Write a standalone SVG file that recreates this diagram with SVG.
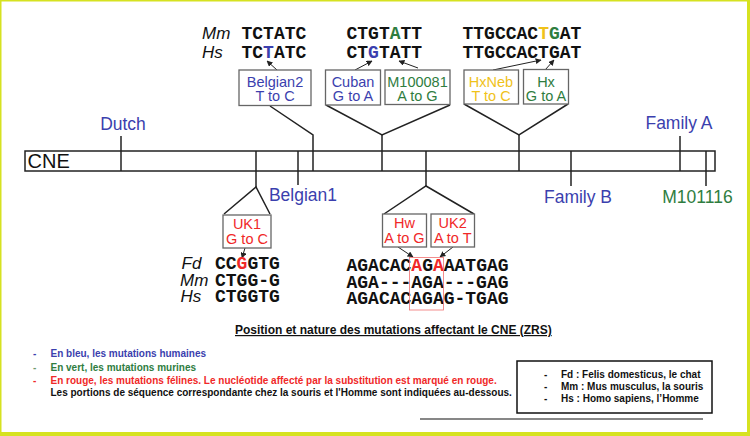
<svg xmlns="http://www.w3.org/2000/svg" width="750" height="436" viewBox="0 0 750 436">
<style>
.sans{font-family:"Liberation Sans",Arial,sans-serif}
.seq{font-family:"Liberation Mono","Courier New",monospace;font-weight:bold;font-size:18px;fill:#111}
.sp{font-family:"Liberation Sans",Arial,sans-serif;font-style:italic;font-size:17px;fill:#111}
.lbl{font-family:"Liberation Sans",Arial,sans-serif;font-size:17.5px}
.box{fill:#fff;stroke:#666;stroke-width:1.3}
.bt{font-family:"Liberation Sans",Arial,sans-serif;font-size:14.5px;text-anchor:middle}
.ln{stroke:#222;stroke-width:1.5;fill:none}
.ar{stroke:#222;stroke-width:1;fill:none;marker-end:url(#ah)}
.leg{font-family:"Liberation Sans",Arial,sans-serif;font-weight:bold;font-size:10px}
.blue{fill:#3b3fae}.green{fill:#2f7d3f}.red{fill:#f02828}.yel{fill:#f0c21a}
</style>
<defs>
<marker id="ah" viewBox="0 0 10 10" refX="9" refY="5" markerWidth="6" markerHeight="6" orient="auto" markerUnits="userSpaceOnUse">
<path d="M0,0 L10,5 L0,10 z" fill="#222"/>
</marker>
</defs>
<rect width="750" height="436" fill="#fff"/>
<g id="border" fill="#d6e220">
<rect x="0" y="0" width="750" height="1.5"/>
<rect x="0" y="0" width="1.5" height="436"/>
<rect x="747" y="0" width="3" height="436"/>
<rect x="0" y="432" width="750" height="4"/>
</g>

<g id="cne">
<rect x="25" y="151" width="690" height="20" fill="#fff" stroke="#222" stroke-width="1.5"/>
<text class="sans" x="27.5" y="168" font-size="20" fill="#111">CNE</text>
</g>

<g id="connectors">
<line class="ln" x1="121" y1="136" x2="121" y2="171"/>
<polyline class="ln" points="256,151 256,187"/>
<polyline class="ln" points="224,214 256,187 270,214"/>
<line class="ln" x1="298" y1="151" x2="298" y2="185"/>
<polyline class="ln" points="270,106 313,135 313,171"/>
<polyline class="ln" points="326,105 382,135 450,105"/>
<line class="ln" x1="382" y1="135" x2="382" y2="171"/>
<polyline class="ln" points="426,151 426,186"/>
<polyline class="ln" points="384,214 426,186 474,214"/>
<polyline class="ln" points="464,104 519,135 568,104"/>
<line class="ln" x1="519" y1="135" x2="519" y2="171"/>
<line class="ln" x1="571" y1="151" x2="571" y2="186"/>
<line class="ln" x1="680" y1="136" x2="680" y2="171"/>
<line class="ln" x1="706" y1="151" x2="706" y2="186"/>
<line class="ar" x1="277" y1="70" x2="267" y2="61"/>
<line class="ar" x1="355" y1="70" x2="372" y2="61"/>
<line class="ar" x1="418" y1="68" x2="399" y2="61"/>
<line class="ar" x1="493" y1="70" x2="541" y2="60"/>
<line class="ar" x1="545" y1="70" x2="554" y2="60"/>
<line class="ar" x1="245" y1="248" x2="242" y2="258"/>
<line class="ar" x1="398" y1="247" x2="413" y2="257"/>
<line class="ar" x1="453" y1="247" x2="440" y2="257"/>
</g>

<g id="top-seq">
<text class="sp" x="202" y="39">Mm</text>
<text class="sp" x="202" y="57.5">Hs</text>
<text class="seq" x="241.5" y="39">TCTATC</text>
<text class="seq" x="241.5" y="57.5">TC<tspan class="blue">T</tspan>ATC</text>
<text class="seq" x="346.5" y="39">CTGT<tspan class="green">A</tspan>TT</text>
<text class="seq" x="346.5" y="57.5">CT<tspan class="blue">G</tspan>TATT</text>
<text class="seq" x="462.5" y="39" font-size="17.5">TTGCCAC<tspan class="yel">T</tspan><tspan class="green">G</tspan>AT</text>
<text class="seq" x="462.5" y="57.5" font-size="17.5">TTGCCACTGAT</text>
</g>

<g id="belgian2"><rect class="box" x="239" y="70" width="72" height="35.5"/>
<text class="bt blue" x="275" y="86.5">Belgian2</text><text class="bt blue" x="275" y="101">T to C</text></g>
<g id="cuban"><rect class="box" x="325.5" y="70" width="55" height="35"/>
<text class="bt blue" x="353" y="86.5">Cuban</text><text class="bt blue" x="353" y="101">G to A</text></g>
<g id="m100081"><rect class="box" x="385" y="70" width="65" height="34.5"/>
<text class="bt green" x="417.5" y="86.5">M100081</text><text class="bt green" x="417.5" y="101">A to G</text></g>
<g id="hxneb"><rect class="box" x="464" y="70" width="54.5" height="34"/>
<text class="bt yel" x="491" y="86.5">HxNeb</text><text class="bt yel" x="491" y="101">T to C</text></g>
<g id="hx"><rect class="box" x="523.5" y="69.5" width="45" height="34.5"/>
<text class="bt green" x="546" y="86.5">Hx</text><text class="bt green" x="546" y="101">G to A</text></g>

<g id="labels">
<text class="lbl blue" x="123" y="130" text-anchor="middle">Dutch</text>
<text class="lbl blue" x="303" y="201" text-anchor="middle">Belgian1</text>
<text class="lbl blue" x="578" y="203" text-anchor="middle">Family B</text>
<text class="lbl blue" x="679" y="129" text-anchor="middle">Family A</text>
<text class="lbl green" x="697.5" y="203" text-anchor="middle">M101116</text>
</g>

<g id="uk1"><rect class="box" x="223" y="215" width="48" height="33"/>
<text class="bt red" x="247" y="229">UK1</text><text class="bt red" x="247" y="244">G to C</text></g>
<g id="hw"><rect class="box" x="382.5" y="214" width="44" height="33"/>
<text class="bt red" x="404.5" y="228">Hw</text><text class="bt red" x="404.5" y="243">A to G</text></g>
<g id="uk2"><rect class="box" x="431" y="214" width="43.5" height="33"/>
<text class="bt red" x="452.7" y="228">UK2</text><text class="bt red" x="452.7" y="243">A to T</text></g>

<g id="bottom-seq">
<text class="sp" x="181.5" y="269">Fd</text>
<text class="sp" x="180" y="285.5">Mm</text>
<text class="sp" x="180.5" y="302">Hs</text>
<text class="seq" x="215" y="269">CC<tspan class="red">G</tspan>GTG</text>
<text class="seq" x="215" y="285.5">CTGG-G</text>
<text class="seq" x="215" y="302">CTGGTG</text>
<text class="seq" x="346.5" y="270.5">AGACAC<tspan class="red">A</tspan>G<tspan class="red">A</tspan>AATGAG</text>
<text class="seq" x="346.5" y="287.5">AGA---AGA---GAG</text>
<text class="seq" x="346.5" y="304">AGACACAGAG-TGAG</text>
<rect x="409.5" y="257.5" width="34" height="52.5" fill="none" stroke="#f07070" stroke-width="0.8"/>
</g>

<g id="legend">
<text class="sans" x="235" y="334" font-size="12" font-weight="bold" text-decoration="underline" fill="#111">Position et nature des mutations affectant le CNE (ZRS)</text>
<text class="leg blue" x="33" y="357">-</text>
<text class="leg blue" x="50.5" y="357">En bleu, les mutations humaines</text>
<text class="leg" x="33" y="370.5" fill="#6f9a6f">-</text>
<text class="leg green" x="50.5" y="370.5">En vert, les mutations murines</text>
<text class="leg red" x="33" y="383.5">-</text>
<text class="leg red" x="50.5" y="383.5">En rouge, les mutations félines. Le nucléotide affecté par la substitution est marqué en rouge.</text>
<text class="leg" x="50.5" y="395.5" fill="#111">Les portions de séquence correspondante chez la souris et l'Homme sont indiquées au-dessous.</text>
</g>

<g id="species-box">
<rect x="517" y="361" width="195" height="52" fill="#fff" stroke="#111" stroke-width="1.5"/>
<text class="leg" x="544" y="378" fill="#111">-</text>
<text class="leg" x="561" y="378" fill="#111">Fd : Felis domesticus, le chat</text>
<text class="leg" x="544" y="390" fill="#111">-</text>
<text class="leg" x="561" y="390" fill="#111">Mm : Mus musculus, la souris</text>
<text class="leg" x="544" y="401.5" fill="#111">-</text>
<text class="leg" x="561" y="401.5" fill="#111">Hs : Homo sapiens, l’Homme</text>
</g>
<line x1="420" y1="419" x2="703" y2="419" stroke="#111" stroke-width="1.2"/>
</svg>
